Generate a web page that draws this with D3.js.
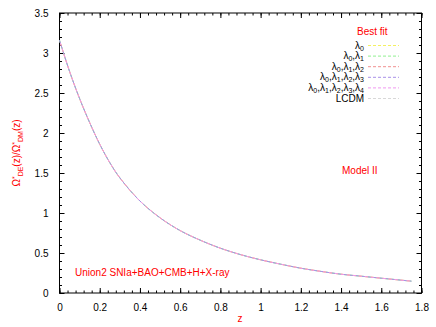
<!DOCTYPE html>
<html>
<head>
<meta charset="utf-8">
<script src="https://cdn.jsdelivr.net/npm/d3@7"></script>
<style>
  body { margin: 0; background: #fff; }
  text { font-family: "Liberation Sans", Arial, sans-serif; }
</style>
</head>
<body>
<div id="chart"></div>
<script>
// values
const zValues = [0, 0.05, 0.1, 0.15, 0.2, 0.25, 0.3, 0.4, 0.5, 0.6, 0.7, 0.8, 0.9, 1.0, 1.1, 1.2, 1.3, 1.4, 1.5, 1.6, 1.75]
const ratioValues = [3.16, 2.77, 2.43, 2.13, 1.86, 1.63, 1.44, 1.15, 0.94, 0.78, 0.66, 0.56, 0.48, 0.415, 0.36, 0.31, 0.27, 0.235, 0.21, 0.185, 0.148]
const seriesNames = ["λ0", "λ0,λ1", "λ0,λ1,λ2", "λ0,λ1,λ2,λ3", "λ0,λ1,λ2,λ3,λ4", "LCDM"]
const seriesColors = ["#f4f060", "#90f090", "#f09090", "#a890e8", "#f098f0", "#d8d8d8"]
const xTicks = [0, 0.2, 0.4, 0.6, 0.8, 1, 1.2, 1.4, 1.6, 1.8]
const yTicks = [0, 0.5, 1, 1.5, 2, 2.5, 3, 3.5]

let width = 436, height = 327
let margin = {top: 13, right: 14.5, bottom: 34, left: 59.5}
let w = width - margin.left - margin.right
let h = height - margin.top - margin.bottom

let svg = d3.select("#chart").append("svg")
    .attr("width", width)
    .attr("height", height)

let g = svg.append("g")
    .attr("transform", "translate(" + margin.left + "," + margin.top + ")")

let xScale = d3.scaleLinear().domain([0, 1.8]).range([0, w])
let yScale = d3.scaleLinear().domain([0, 3.5]).range([h, 0])

let xMinor = d3.range(0, 1.8001, 0.04)
let yMinor = d3.range(0, 3.5001, 0.1)

// ticks on all four sides, pointing inward
function tickSet(axis, scale, values, len, labels) {
    return axis(scale).tickValues(values).tickSizeInner(len).tickSizeOuter(0)
        .tickFormat(labels ? d3.format("") : "")
        .tickPadding(labels ? 11 : 0)
}

g.append("g").attr("transform", "translate(0," + h + ")")
    .call(tickSet(d3.axisBottom, xScale, xMinor, -2.5, false))
g.append("g").attr("transform", "translate(0," + h + ")")
    .call(tickSet(d3.axisBottom, xScale, xTicks, -5, true))
g.append("g")
    .call(tickSet(d3.axisTop, xScale, xMinor, -2.5, false))
g.append("g")
    .call(tickSet(d3.axisTop, xScale, xTicks, -5, false))
g.append("g")
    .call(tickSet(d3.axisLeft, yScale, yMinor, -2.5, false))
g.append("g")
    .call(tickSet(d3.axisLeft, yScale, yTicks, -5, true))
g.append("g").attr("transform", "translate(" + w + ",0)")
    .call(tickSet(d3.axisRight, yScale, yMinor, -2.5, false))
g.append("g").attr("transform", "translate(" + w + ",0)")
    .call(tickSet(d3.axisRight, yScale, yTicks, -5, false))

g.selectAll(".domain").remove()
g.selectAll(".tick line").attr("stroke", "#000").attr("stroke-width", 1)
g.selectAll(".tick text").style("font-size", "10px").attr("fill", "#000")

g.append("rect")
    .attr("width", w).attr("height", h)
    .attr("fill", "none").attr("stroke", "#000").attr("stroke-width", 1)

let points = zValues.map(function (z, i) { return [z, ratioValues[i]] })

let lineGen = d3.line()
    .x(function (d) { return xScale(d[0]) })
    .y(function (d) { return yScale(d[1]) })
    .curve(d3.curveCatmullRom)

// all six fits lie on top of each other; the last ones drawn show
let drawOrder = [5, 0, 1, 2, 3, 4]
drawOrder.forEach(function (i, k) {
    g.append("path")
        .attr("d", lineGen(points))
        .attr("fill", "none")
        .attr("stroke", seriesColors[i])
        .attr("stroke-width", 1)
        .attr("stroke-dasharray", "3,3")
        .attr("stroke-dashoffset", k % 2 ? 3 : 0)
})

// legend
svg.append("text")
    .attr("x", 357).attr("y", 35)
    .attr("fill", "#ff0000")
    .style("font-size", "10px")
    .text("Best fit")

seriesNames.forEach(function (name, i) {
    let y = 45.5 + i * 10.6
    let t = svg.append("text")
        .attr("x", 364).attr("y", y + 3)
        .attr("text-anchor", "end")
        .style("font-size", "10px")
        .attr("fill", "#000")
    if (name == "LCDM") {
        t.text(name)
    } else {
        name.split(",").forEach(function (part, j) {
            t.append("tspan").attr("dy", j > 0 ? -2 : 0).text((j > 0 ? "," : "") + "λ")
            t.append("tspan").attr("dy", 2).style("font-size", "7px").text(part.slice(1))
        })
    }
    svg.append("line")
        .attr("x1", 368).attr("x2", 399)
        .attr("y1", y).attr("y2", y)
        .attr("stroke", seriesColors[i])
        .attr("stroke-dasharray", "3,2")
})

// annotations
svg.append("text")
    .attr("x", 342).attr("y", 174)
    .attr("fill", "#ff0000")
    .style("font-size", "10px")
    .text("Model II")

svg.append("text")
    .attr("x", 75).attr("y", 276)
    .attr("fill", "#ff0000")
    .style("font-size", "10px")
    .text("Union2 SNIa+BAO+CMB+H+X-ray")

svg.append("text")
    .attr("x", 240).attr("y", 322)
    .attr("text-anchor", "middle")
    .attr("fill", "#ff0000")
    .style("font-size", "10px")
    .text("z")

let yl = svg.append("text")
    .attr("transform", "translate(20,153) rotate(-90)")
    .attr("text-anchor", "middle")
    .attr("fill", "#ff0000")
    .style("font-size", "10px")
yl.append("tspan").text("Ω")
yl.append("tspan").attr("dy", -3).style("font-size", "7px").text("*")
yl.append("tspan").attr("dy", 6).style("font-size", "7px").text("DE")
yl.append("tspan").attr("dy", -3).text("(z)/Ω")
yl.append("tspan").attr("dy", -3).style("font-size", "7px").text("*")
yl.append("tspan").attr("dy", 6).style("font-size", "7px").text("DM")
yl.append("tspan").attr("dy", -3).text("(z)")
</script>
</body>
</html>
